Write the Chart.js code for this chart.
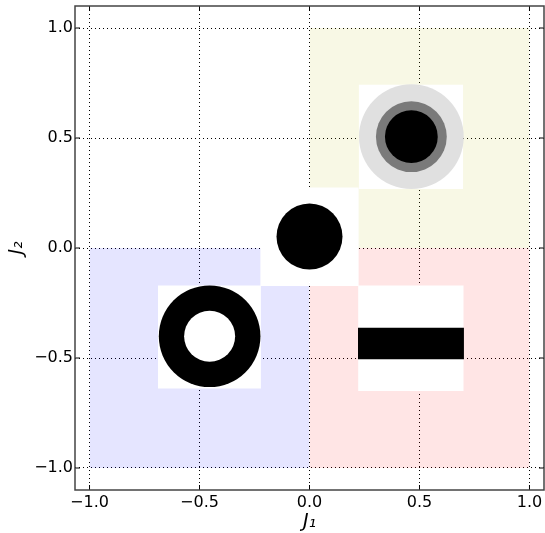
<!DOCTYPE html>
<html>
<head>
<meta charset="utf-8">
<script src="https://cdn.jsdelivr.net/npm/chart.js@4.4.0/dist/chart.umd.min.js"></script>
<style>
  html, body { margin: 0; padding: 0; background: #fff; }
  #wrap { width: 545px; height: 533px; }
</style>
</head>
<body>
<div id="wrap"><canvas id="mycanvas"></canvas></div>
<script>
// tick values, same on both axes
var tickVals = [-1.0, -0.5, 0.0, 0.5, 1.0];

// shaded quadrants (blue, red, yellow)
var quadX0 = [-1, 0, 0];
var quadX1 = [0, 1, 1];
var quadY0 = [-1, -1, 0];
var quadY1 = [0, 0, 1];
var quadColors = ['rgba(0,0,255,0.1)', 'rgba(255,0,0,0.1)', 'rgba(191,191,0,0.1)'];

// white image boxes (centre + half size)
var boxCx = [0.0, 0.461, -0.455, 0.461];
var boxCy = [0.051, 0.505, -0.405, -0.41];
var boxHalf = [0.224, 0.237, 0.234, 0.24];

// discs drawn inside the boxes, back to front
var diskX = [0.0, 0.463, 0.463, 0.463, -0.454, -0.454];
var diskY = [0.052, 0.506, 0.506, 0.506, -0.401, -0.401];
var diskR = [0.15, 0.238, 0.161, 0.12, 0.231, 0.116];
var diskColors = ['#000', '#e0e0e0', '#7a7a7a', '#000', '#000', '#fff'];

// black bar in the lower right box
var barX = [0.22, 0.702];
var barY = [-0.362, -0.506];

var order = 100;
var datasets = [];

function rect(x0, x1, y0, y1, color) {
  return {
    type: 'line',
    data: [{x: x0, y: y1}, {x: x1, y: y1}],
    fill: {value: y0},
    backgroundColor: color,
    borderColor: 'rgba(0,0,0,0)',
    borderWidth: 0,
    pointRadius: 0,
    tension: 0,
    order: order--
  };
}

function pxPerUnit(chart) {
  var sx = chart.scales.x;
  return sx.getPixelForValue(1) - sx.getPixelForValue(0);
}

for (var i = 0; i < quadX0.length; i++) {
  datasets.push(rect(quadX0[i], quadX1[i], quadY0[i], quadY1[i], quadColors[i]));
}
for (var i = 0; i < boxCx.length; i++) {
  datasets.push(rect(boxCx[i] - boxHalf[i], boxCx[i] + boxHalf[i],
                     boxCy[i] - boxHalf[i], boxCy[i] + boxHalf[i], '#fff'));
}
for (var i = 0; i < diskX.length; i++) {
  (function(r) {
    datasets.push({
      type: 'line',
      showLine: false,
      data: [{x: diskX[i], y: diskY[i]}],
      pointStyle: 'circle',
      pointRadius: function(ctx) { return r * pxPerUnit(ctx.chart); },
      pointHoverRadius: function(ctx) { return r * pxPerUnit(ctx.chart); },
      pointBackgroundColor: diskColors[i],
      pointBorderColor: 'rgba(0,0,0,0)',
      pointBorderWidth: 0,
      order: order--
    });
  })(diskR[i]);
}
datasets.push(rect(barX[0], barX[1], barY[1], barY[0], '#000'));

var frame = {
  id: 'frame',
  afterDraw: function(chart) {
    var ctx = chart.ctx, a = chart.chartArea, sx = chart.scales.x, sy = chart.scales.y;
    ctx.save();
    ctx.strokeStyle = '#000';
    ctx.lineWidth = 1;
    ctx.beginPath();
    tickVals.forEach(function(v) {
      var px = sx.getPixelForValue(v), py = sy.getPixelForValue(v);
      ctx.moveTo(px, a.bottom); ctx.lineTo(px, a.bottom - 5);
      ctx.moveTo(px, a.top); ctx.lineTo(px, a.top + 5);
      ctx.moveTo(a.left, py); ctx.lineTo(a.left + 5, py);
      ctx.moveTo(a.right, py); ctx.lineTo(a.right - 5, py);
    });
    ctx.stroke();
    ctx.strokeStyle = '#444';
    ctx.lineWidth = 1.5;
    ctx.strokeRect(a.left, a.top, a.right - a.left, a.bottom - a.top);
    ctx.restore();
  }
};

function fmt(v) {
  return (v < 0 ? '\u2212' : '') + Math.abs(v).toFixed(1);
}

var tickFont = {family: 'DejaVu Sans', size: 16};
var titleFont = {family: 'DejaVu Sans', size: 19, style: 'italic'};

var ctx = document.getElementById('mycanvas');
var chart = new Chart(ctx, {
  type: 'line',
  data: {datasets: datasets},
  plugins: [frame],
  options: {
    responsive: true,
    maintainAspectRatio: false,
    animation: false,
    events: [],
    layout: {padding: {top: 6, right: 1, left: 0, bottom: 0}},
    plugins: {legend: {display: false}, tooltip: {enabled: false}},
    scales: {
      x: {
        type: 'linear',
        min: -1.066,
        max: 1.066,
        afterBuildTicks: function(s) { s.ticks = tickVals.map(function(v) { return {value: v}; }); },
        afterFit: function(s) { s.height = 43; s.paddingLeft = 0; s.paddingRight = 0; },
        ticks: {callback: fmt, font: tickFont, color: '#000', padding: 3, maxRotation: 0, autoSkip: false},
        grid: {color: '#000', lineWidth: 1, drawTicks: false, borderDash: [1, 3]},
        border: {display: false, dash: [1, 3]},
        title: {display: true, text: 'J\u2081', font: titleFont, color: '#000', padding: {top: 0, bottom: 0}}
      },
      y: {
        type: 'linear',
        min: -1.1,
        max: 1.1,
        afterBuildTicks: function(s) { s.ticks = tickVals.map(function(v) { return {value: v}; }); },
        afterFit: function(s) { s.width = 75; s.paddingTop = 0; s.paddingBottom = 0; },
        ticks: {callback: fmt, font: tickFont, color: '#000', padding: 2, autoSkip: false},
        grid: {color: '#000', lineWidth: 1, drawTicks: false, borderDash: [1, 3]},
        border: {display: false, dash: [1, 3]},
        title: {display: true, text: 'J\u2082', font: titleFont, color: '#000', padding: {top: 6, bottom: 0}}
      }
    }
  }
});
</script>
</body>
</html>
